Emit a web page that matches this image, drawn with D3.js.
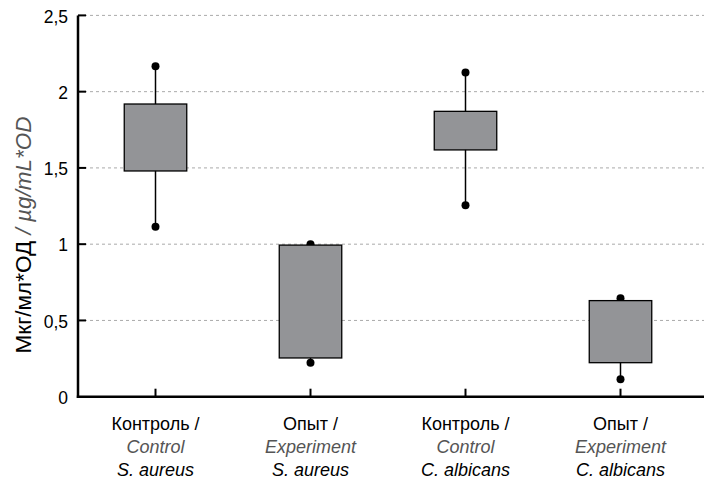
<!DOCTYPE html>
<html><head><meta charset="utf-8">
<script src="https://cdn.jsdelivr.net/npm/d3@7"></script>
<style>
body{margin:0;background:#fff;}
text{font-family:"Liberation Sans",Arial,sans-serif;}
</style></head>
<body><svg id="c" width="705" height="488"></svg>
<script>
const categories = ["cSA","eSA","cCA","eCA"];
const labelLine1 = ["Контроль /","Опыт /","Контроль /","Опыт /"];
const labelLine2 = ["Control","Experiment","Control","Experiment"];
const labelLine3 = ["S. aureus","S. aureus","C. albicans","C. albicans"];
const whiskerLow = [1.115, 0.223, 1.255, 0.114];
const boxLow = [1.48, 0.254, 1.618, 0.223];
const boxHigh = [1.919, 0.994, 1.871, 0.630];
const whiskerHigh = [2.167, 1.0, 2.125, 0.645];
const yTicks = [0, 0.5, 1, 1.5, 2, 2.5];
const yTickLabels = ["0","0,5","1","1,5","2","2,5"];

const svg = d3.select("#c");
const x0 = 78, x1 = 698, xEnd = 704;
const y = d3.scaleLinear().domain([0, 2.5]).range([396.7, 15.4]);
const x = d3.scaleBand().domain(categories).range([x0, x1]).paddingInner(0).paddingOuter(0);
const cx = c => x(c) + x.bandwidth()/2;
const boxW = 62.5;

// gridlines
svg.append("g").selectAll("line").data(yTicks.filter(d=>d>0)).join("line")
  .attr("x1", x0).attr("x2", xEnd).attr("y1", d=>y(d)).attr("y2", d=>y(d))
  .attr("stroke", "#aaaaaa").attr("stroke-width", 1).attr("stroke-dasharray", "3,3");

const data = categories.map((c,i)=>({c, wl:whiskerLow[i], bl:boxLow[i], bh:boxHigh[i], wh:whiskerHigh[i]}));
const g = svg.append("g");
g.selectAll("line.w").data(data).join("line").attr("class","w")
  .attr("x1", d=>cx(d.c)).attr("x2", d=>cx(d.c))
  .attr("y1", d=>y(d.wl)).attr("y2", d=>y(d.wh))
  .attr("stroke", "#000").attr("stroke-width", 1.5);
g.selectAll("circle.lo").data(data).join("circle").attr("class","lo")
  .attr("cx", d=>cx(d.c)).attr("cy", d=>y(d.wl)).attr("r", 4).attr("fill", "#000");
g.selectAll("circle.hi").data(data).join("circle").attr("class","hi")
  .attr("cx", d=>cx(d.c)).attr("cy", d=>y(d.wh)).attr("r", 4).attr("fill", "#000");
g.selectAll("rect").data(data).join("rect")
  .attr("x", d=>cx(d.c)-boxW/2).attr("width", boxW)
  .attr("y", d=>y(d.bh)).attr("height", d=>y(d.bl)-y(d.bh))
  .attr("fill", "#939497").attr("stroke", "#000").attr("stroke-width", 1.3);

// y axis
const yAxis = d3.axisLeft(y).tickValues(yTicks).tickSize(0).tickPadding(10)
  .tickFormat((d,i)=>yTickLabels[i]);
const ya = svg.append("g").attr("transform", `translate(${x0},0)`).call(yAxis);
ya.select(".domain").remove();
ya.selectAll("text").attr("font-size", 17.5).attr("fill", "#000").attr("dy", "0.38em")
  .style("font-family", '"Liberation Sans",Arial,sans-serif');
svg.append("g").selectAll("line").data(yTicks.filter(d=>d>0)).join("line")
  .attr("x1", x0).attr("x2", x0+8).attr("y1", d=>y(d)).attr("y2", d=>y(d))
  .attr("stroke", "#000").attr("stroke-width", 2);
svg.append("line").attr("x1", x0).attr("x2", x0).attr("y1", y(2.5)).attr("y2", y(0)+1.2)
  .attr("stroke", "#000").attr("stroke-width", 2.5);

// x axis
svg.append("line").attr("x1", x0-1.2).attr("x2", xEnd).attr("y1", y(0)).attr("y2", y(0))
  .attr("stroke", "#000").attr("stroke-width", 2.5);
svg.append("g").selectAll("line").data(categories).join("line")
  .attr("x1", d=>cx(d)).attr("x2", d=>cx(d)).attr("y1", y(0)).attr("y2", y(0)-8)
  .attr("stroke", "#000").attr("stroke-width", 2);

// x labels
const lab = svg.append("g").selectAll("text").data(categories).join("text")
  .attr("text-anchor", "middle").attr("font-size", 18);
lab.append("tspan").attr("x", d=>cx(d)).attr("y", 430).attr("fill","#000")
  .text((d,i)=>labelLine1[i]);
lab.append("tspan").attr("x", d=>cx(d)).attr("y", 453).attr("fill","#555")
  .attr("font-style","italic").text((d,i)=>labelLine2[i]);
lab.append("tspan").attr("x", d=>cx(d)).attr("y", 476).attr("fill","#000")
  .attr("font-style","italic").text((d,i)=>labelLine3[i]);

// y title
const yt = svg.append("text").attr("transform", "translate(31,235) rotate(-90)")
  .attr("text-anchor", "middle").attr("font-size", 22.5);
yt.append("tspan").attr("fill","#000").text("Мкг/мл*ОД");
yt.append("tspan").attr("fill","#555").attr("font-style","italic").text(" / µg/mL*OD");
</script></body></html>
